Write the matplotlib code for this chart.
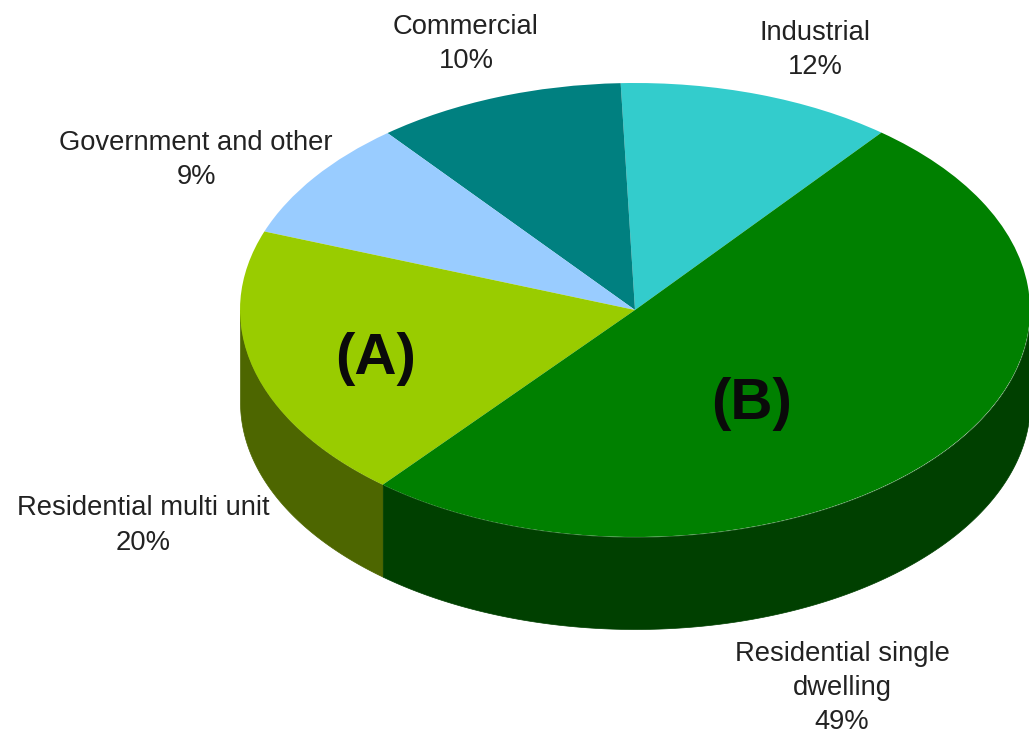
import numpy as np
import matplotlib
matplotlib.use("Agg")
import matplotlib.pyplot as plt

plt.rcParams['font.family'] = ['Liberation Sans', 'DejaVu Sans']

categories = ["Industrial", "Commercial", "Government and other",
              "Residential multi unit", "Residential single\ndwelling"]
percent_labels = [12, 10, 9, 20, 49]
# slice sizes as drawn in the picture (they differ slightly from the printed percentages)
drawn_shares = [11.3, 10.2, 8.6, 19.6, 50.3]
colors = ["#33CCCC", "#008080", "#99CCFF", "#99CC00", "#008000"]
side_colors = ["#1A6666", "#004040", "#4D6680", "#4D6600", "#004000"]
label_px = [(815, 50), (466, 44), (196, 160), (143, 525.5), (842, 688)]
annotations = [("(A)", 376, 359), ("(B)", 752, 404)]

W, H = 1029, 736
CX, CY, RX, RY, DEPTH = 635, 310, 395, 227, 92
START = 51.4

fig = plt.figure(figsize=(W / 100, H / 100), dpi=100)
ax = fig.add_axes([0, 0, 1, 1])

edges = START + np.concatenate([[0], np.cumsum(drawn_shares)]) * 3.6
for i, sc in enumerate(side_colors):
    th = np.radians(np.linspace(edges[i], edges[i + 1], 300))
    vis = np.sin(th) <= 0
    if vis.any():
        x, y = np.cos(th[vis]), np.sin(th[vis])
        ax.fill_between(x, y, y - DEPTH / RY, color=sc, lw=0.5, zorder=1)

wedges, _ = ax.pie(drawn_shares, colors=colors, startangle=START, counterclock=True,
                   radius=1, center=(0, 0), wedgeprops=dict(lw=0))
for w in wedges:
    w.set_zorder(2)

ax.set_aspect('auto')
ax.set_xlim(-CX / RX, (W - CX) / RX)
ax.set_ylim((CY - H) / RY, CY / RY)
ax.axis('off')

px = lambda p, q: ((p - CX) / RX, (CY - q) / RY)
for cat, share, (p, q) in zip(categories, percent_labels, label_px):
    ax.text(*px(p, q), f"{cat}\n{share}%", ha='center', va='center',
            fontsize=19.7, color='#222222', linespacing=1.42, zorder=5)
for t, p, q in annotations:
    ax.text(*px(p, q), t, ha='center', va='center', fontsize=42,
            fontweight='bold', color='#0a0a0a', zorder=5)

fig.savefig("out.png", dpi=100, facecolor='white')
